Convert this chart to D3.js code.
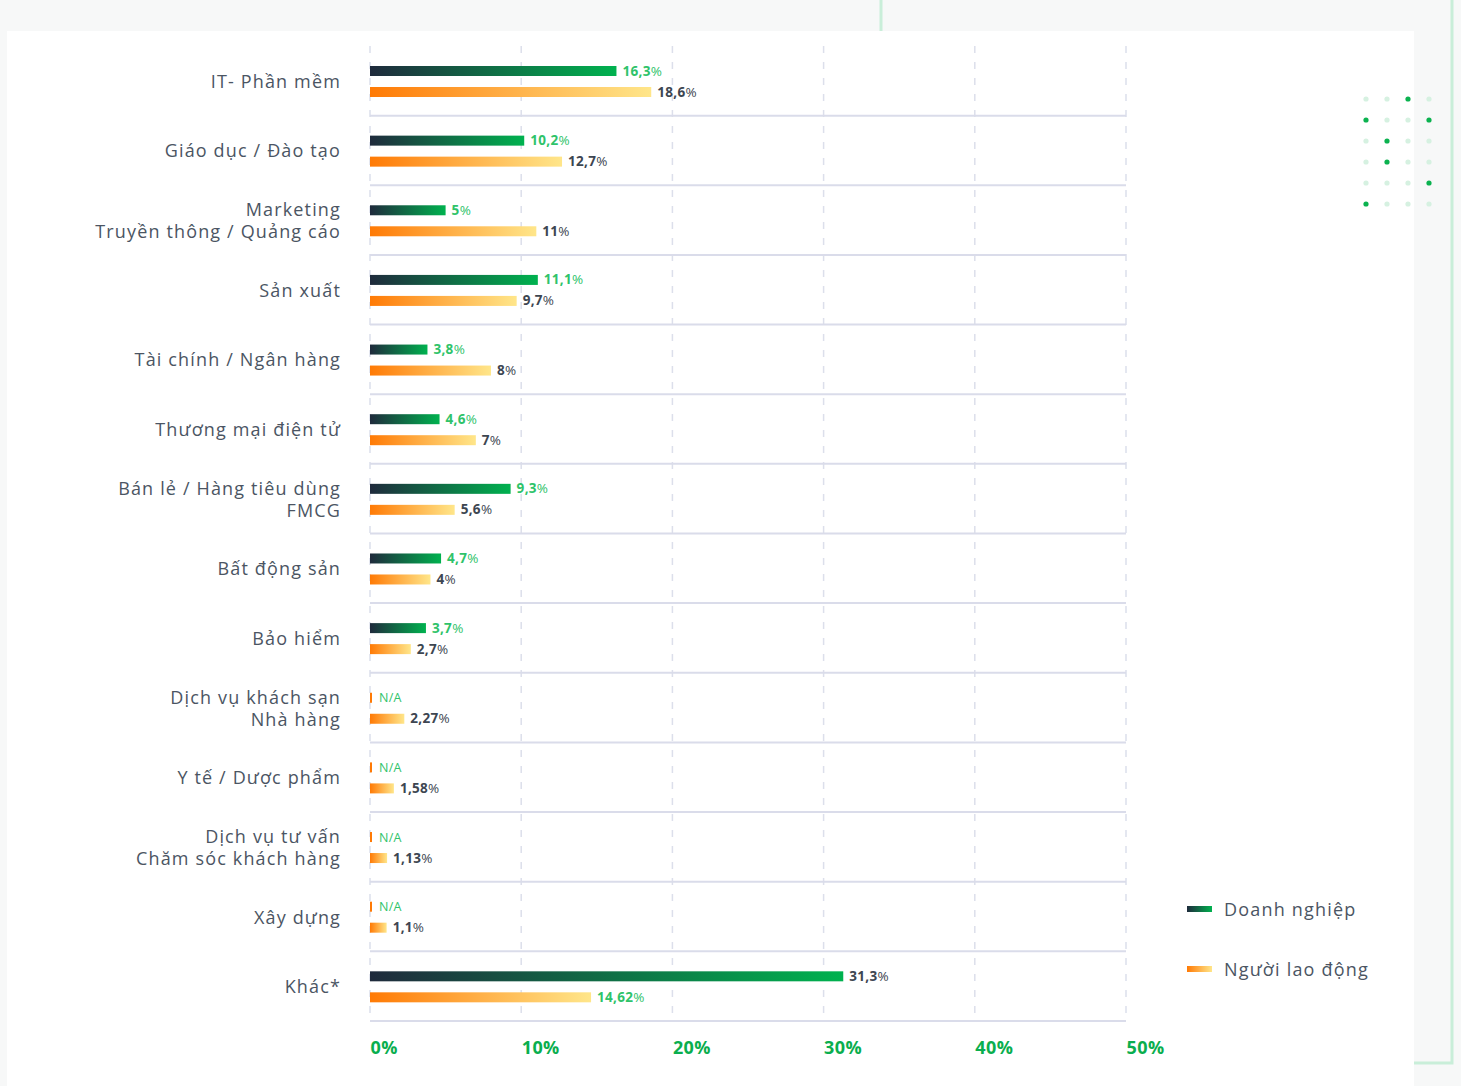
<!DOCTYPE html>
<html>
<head>
<meta charset="utf-8">
<script src="https://cdn.jsdelivr.net/npm/d3@7"></script>
<style>
  html, body { margin: 0; padding: 0; background: #f7f8f8; }
  svg { display: block; }
</style>
</head>
<body>
<svg id="chart" width="1461" height="1086"></svg>
<script>
// Industry shares (%) for businesses vs. workers
const categories = [
  ["IT- Phần mềm"],
  ["Giáo dục / Đào tạo"],
  ["Marketing", "Truyền thông / Quảng cáo"],
  ["Sản xuất"],
  ["Tài chính / Ngân hàng"],
  ["Thương mại điện tử"],
  ["Bán lẻ / Hàng tiêu dùng", "FMCG"],
  ["Bất động sản"],
  ["Bảo hiểm"],
  ["Dịch vụ khách sạn", "Nhà hàng"],
  ["Y tế / Dược phẩm"],
  ["Dịch vụ tư vấn", "Chăm sóc khách hàng"],
  ["Xây dựng"],
  ["Khác*"]
];
const doanhNghiep = [16.3, 10.2, 5, 11.1, 3.8, 4.6, 9.3, 4.7, 3.7, null, null, null, null, 31.3];
const nguoiLaoDong = [18.6, 12.7, 11, 9.7, 8, 7, 5.6, 4, 2.7, 2.27, 1.58, 1.13, 1.1, 14.62];
const xTicks = [0, 10, 20, 30, 40, 50];
const seriesNames = ["Doanh nghiệp", "Người lao động"];
const swappedLabelRow = 13; // "Khác*" row uses inverted label colours

const FONT = "'Open Sans', 'Noto Sans', sans-serif";
const TEXT = "#4b5563";
const GREEN_TXT = "#2fc36a";
const DARK_TXT = "#3d4651";

const svg = d3.select("#chart");
const defs = svg.append("defs");

function grad(id, c0, c1) {
  const g = defs.append("linearGradient").attr("id", id)
    .attr("x1", "0%").attr("x2", "100%").attr("y1", "0%").attr("y2", "0%");
  g.append("stop").attr("offset", "0%").attr("stop-color", c0);
  g.append("stop").attr("offset", "100%").attr("stop-color", c1);
}
grad("gGreen", "#1f2a3c", "#00b24f");
grad("gOrange", "#ff7a05", "#ffe68a");

// page decoration
svg.append("rect").attr("x", 881).attr("y", -10).attr("width", 571).attr("height", 1073)
  .attr("fill", "none").attr("stroke", "#c9eed9").attr("stroke-width", 3);
svg.append("rect").attr("x", 7).attr("y", 31).attr("width", 1407).attr("height", 1070).attr("fill", "#ffffff");

// dot pattern
const dotOn = [[0,2],[1,0],[1,3],[2,1],[3,1],[4,3],[5,0]];
const dots = [];
for (let r = 0; r < 6; r++) for (let c = 0; c < 4; c++) dots.push({r, c, on: dotOn.some(d => d[0] === r && d[1] === c)});
svg.append("g").selectAll("circle").data(dots).join("circle")
  .attr("cx", d => 1366 + d.c * 21).attr("cy", d => 99 + d.r * 21).attr("r", 2.6)
  .attr("fill", d => d.on ? "#0bb24f" : "#d6f1e1");

const margin = { left: 370, top: 46 };
const plotW = 756, bandH = 69.64;
const x = d3.scaleLinear().domain([0, 50]).range([margin.left, margin.left + plotW]);
const y = d3.scaleBand().domain(d3.range(categories.length))
  .range([margin.top, margin.top + bandH * categories.length]);
const bottom = margin.top + bandH * categories.length;

// dashed vertical grid
svg.append("g").selectAll("line").data(xTicks).join("line")
  .attr("x1", d => x(d)).attr("x2", d => x(d))
  .attr("y1", margin.top).attr("y2", bottom)
  .attr("stroke", "#dcdfeb").attr("stroke-width", 1.5).attr("stroke-dasharray", "7,9");

// row separators
svg.append("g").selectAll("line").data(d3.range(1, categories.length + 1)).join("line")
  .attr("x1", x(0)).attr("x2", x(50))
  .attr("y1", i => y(0) + i * bandH).attr("y2", i => y(0) + i * bandH)
  .attr("stroke", "#dadcea").attr("stroke-width", 2);

// x axis labels
const xAxis = d3.axisBottom(x).tickValues(xTicks).tickSize(0).tickFormat(d => d + "%");
const ax = svg.append("g").attr("transform", `translate(0,${bottom})`).call(xAxis);
ax.select(".domain").remove();
ax.selectAll("text").attr("text-anchor", "start").attr("dy", 0).attr("y", 33)
  .attr("fill", "#0aae4e").attr("font-family", FONT).attr("font-weight", 700)
  .attr("font-size", 18).attr("letter-spacing", 0.4);

// category labels
const catG = svg.append("g");
categories.forEach((lines, i) => {
  const cy = y(i) + bandH / 2 + 1;
  const lh = 22;
  const t = catG.append("text").attr("text-anchor", "end").attr("fill", TEXT)
    .attr("font-family", FONT).attr("font-size", 18).attr("letter-spacing", 1.15);
  lines.forEach((ln, k) => {
    t.append("tspan").attr("x", 341)
      .attr("y", cy + (k - (lines.length - 1) / 2) * lh + 6).text(ln);
  });
});

const fmt = v => String(v).replace(".", ",");
const barH = 10;
const g1Off = 20, g2Off = 41;

function valueLabel(g, xv, yc, v, color) {
  const t = g.append("text").attr("x", xv + 6).attr("y", yc + 4.5)
    .attr("font-family", FONT).attr("font-size", 13.5).attr("letter-spacing", 0.3).attr("fill", color);
  t.append("tspan").attr("font-weight", 700).text(fmt(v));
  t.append("tspan").attr("font-weight", 400).text("%");
}

const barsG = svg.append("g");
categories.forEach((c, i) => {
  const top = y(i);
  const swap = i === swappedLabelRow;
  const dn = doanhNghiep[i], nl = nguoiLaoDong[i];
  if (dn == null) {
    barsG.append("rect").attr("x", x(0)).attr("y", top + g1Off).attr("width", 2).attr("height", barH)
      .attr("fill", "#ff7a05");
    barsG.append("text").attr("x", x(0) + 9).attr("y", top + g1Off + barH / 2 + 4.5)
      .attr("font-family", FONT).attr("font-size", 12.5).attr("letter-spacing", 0.3)
      .attr("fill", GREEN_TXT).text("N/A");
  } else {
    barsG.append("rect").attr("x", x(0)).attr("y", top + g1Off)
      .attr("width", x(dn) - x(0)).attr("height", barH).attr("fill", "url(#gGreen)");
    valueLabel(barsG, x(dn), top + g1Off + barH / 2, dn, swap ? DARK_TXT : GREEN_TXT);
  }
  barsG.append("rect").attr("x", x(0)).attr("y", top + g2Off)
    .attr("width", x(nl) - x(0)).attr("height", barH).attr("fill", "url(#gOrange)");
  valueLabel(barsG, x(nl), top + g2Off + barH / 2, nl, swap ? GREEN_TXT : DARK_TXT);
});

// legend
const lg = svg.append("g");
[["url(#gGreen)", 909], ["url(#gOrange)", 969]].forEach(([fill, ly], k) => {
  lg.append("rect").attr("x", 1187).attr("y", ly - 3).attr("width", 25).attr("height", 6).attr("fill", fill);
  lg.append("text").attr("x", 1224).attr("y", ly + 7).attr("fill", TEXT)
    .attr("font-family", FONT).attr("font-size", 18).attr("letter-spacing", 1.2).text(seriesNames[k]);
});
</script>
</body>
</html>
